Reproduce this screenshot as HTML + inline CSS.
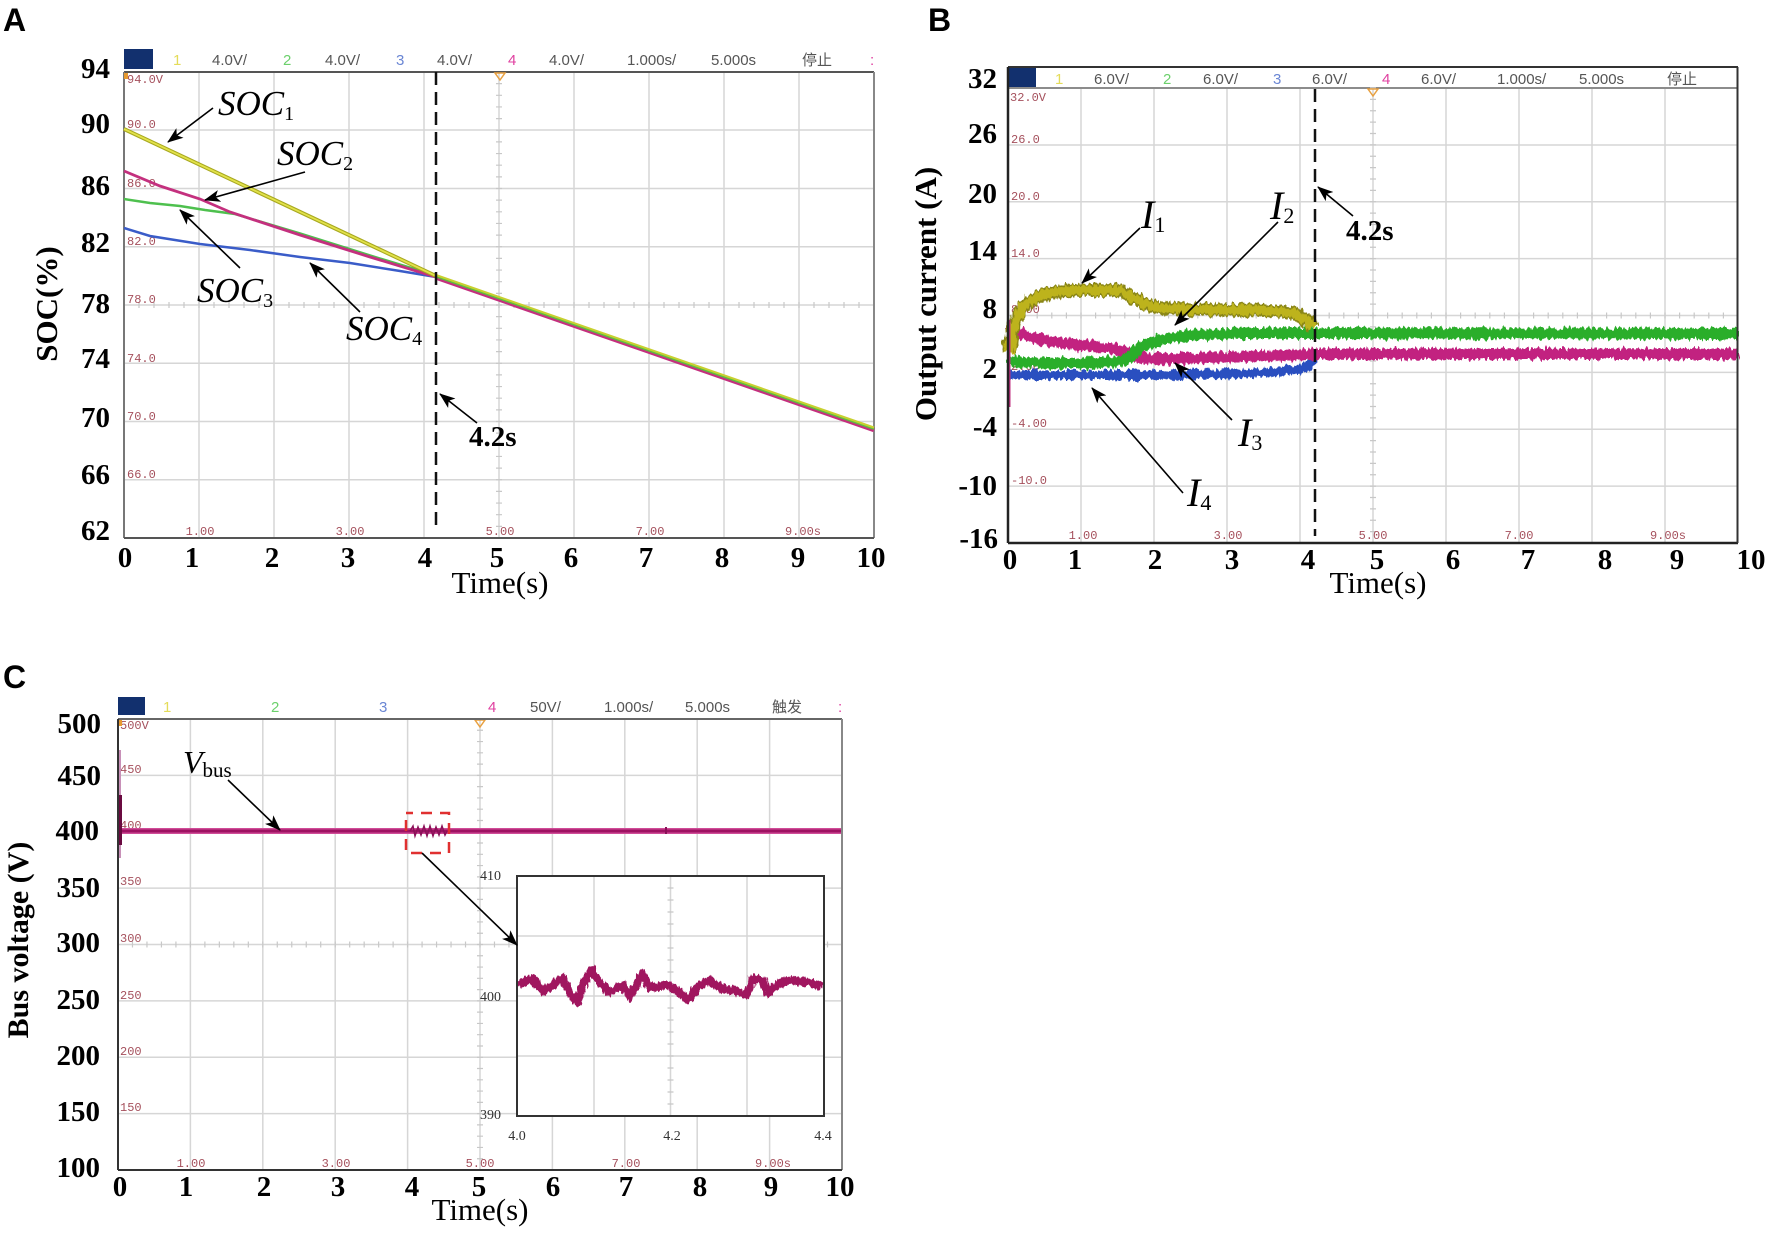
<!DOCTYPE html>
<html><head><meta charset="utf-8"><style>
html,body{margin:0;padding:0;background:#fff;}
svg{display:block}
.tk{font-family:"Liberation Serif",serif;font-weight:bold;font-size:29px;fill:#000}
.ax{font-family:"Liberation Serif",serif;font-size:31px;fill:#000}
.yl{font-family:"Liberation Serif",serif;font-weight:bold;font-size:31px;fill:#000}
.hd{font-family:"Liberation Sans","Noto Sans CJK SC",sans-serif;font-size:15px;fill:#555}
.rl{font-family:"Liberation Mono",monospace;font-size:12px;fill:#a5505c}
.an{font-family:"Liberation Serif",serif;font-style:italic;fill:#000}
.pl{font-family:"Liberation Sans",sans-serif;font-weight:bold;font-size:32px;fill:#000}
.ins{font-family:"Liberation Serif",serif;font-size:14px;fill:#333}
</style></head><body>
<svg width="1772" height="1235" viewBox="0 0 1772 1235" xmlns="http://www.w3.org/2000/svg">
<defs>
<marker id="ah" markerUnits="userSpaceOnUse" markerWidth="16" markerHeight="12" refX="15" refY="6" orient="auto" viewBox="0 0 16 12"><path d="M0,0 L16,6 L0,12 L4,6 z" fill="#000"/></marker>
<filter id="nz" x="-2%" y="-40%" width="104%" height="180%"><feTurbulence type="fractalNoise" baseFrequency="0.35 0.08" numOctaves="2" seed="3"/><feDisplacementMap in="SourceGraphic" scale="9" xChannelSelector="R" yChannelSelector="G"/></filter>
<filter id="nz2" x="-2%" y="-40%" width="104%" height="180%"><feTurbulence type="fractalNoise" baseFrequency="0.4 0.1" numOctaves="2" seed="7"/><feDisplacementMap in="SourceGraphic" scale="7" xChannelSelector="R" yChannelSelector="G"/></filter>
</defs>
<rect width="1772" height="1235" fill="#fff"/>

<text class="pl" x="3" y="31">A</text>
<text class="pl" x="928" y="31">B</text>
<text class="pl" x="3" y="688">C</text>

<!-- ================= PANEL A ================= -->
<g>
<rect x="124" y="49" width="29" height="20" fill="#12306e"/>
<text class="hd" x="173" y="65" style="fill:#e4dc5a">1</text>
<text class="hd" x="212" y="65">4.0V/</text>
<text class="hd" x="283" y="65" style="fill:#6cd06c">2</text>
<text class="hd" x="325" y="65">4.0V/</text>
<text class="hd" x="396" y="65" style="fill:#6a86d4">3</text>
<text class="hd" x="437" y="65">4.0V/</text>
<text class="hd" x="508" y="65" style="fill:#e040a0">4</text>
<text class="hd" x="549" y="65">4.0V/</text>
<text class="hd" x="627" y="65">1.000s/</text>
<text class="hd" x="711" y="65">5.000s</text>
<text class="hd" x="802" y="65">停止</text>
<text class="hd" x="870" y="65" style="fill:#e040a0">:</text>

<g stroke="#d6d6d6" stroke-width="1.5">
<line x1="199" y1="72" x2="199" y2="538"/><line x1="274" y1="72" x2="274" y2="538"/><line x1="349" y1="72" x2="349" y2="538"/><line x1="424" y1="72" x2="424" y2="538"/><line x1="499" y1="72" x2="499" y2="538"/><line x1="574" y1="72" x2="574" y2="538"/><line x1="649" y1="72" x2="649" y2="538"/><line x1="724" y1="72" x2="724" y2="538"/><line x1="799" y1="72" x2="799" y2="538"/>
<line x1="124" y1="130" x2="874" y2="130"/><line x1="124" y1="188.5" x2="874" y2="188.5"/><line x1="124" y1="246.8" x2="874" y2="246.8"/><line x1="124" y1="305" x2="874" y2="305"/><line x1="124" y1="363.3" x2="874" y2="363.3"/><line x1="124" y1="421.5" x2="874" y2="421.5"/><line x1="124" y1="479.8" x2="874" y2="479.8"/>
</g>
<line x1="499" y1="71.4" x2="499" y2="538" stroke="#c8c8c8" stroke-width="6" stroke-dasharray="1.2 10.45"/>
<line x1="123.4" y1="305" x2="874" y2="305" stroke="#c8c8c8" stroke-width="6" stroke-dasharray="1.2 13.8"/>

<g class="rl">
<text x="127" y="83">94.0V</text><text x="127" y="128">90.0</text><text x="127" y="187">86.0</text><text x="127" y="245">82.0</text><text x="127" y="303">78.0</text><text x="127" y="362">74.0</text><text x="127" y="420">70.0</text><text x="127" y="478">66.0</text>
<text x="200" y="535" text-anchor="middle">1.00</text><text x="350" y="535" text-anchor="middle">3.00</text><text x="500" y="535" text-anchor="middle">5.00</text><text x="650" y="535" text-anchor="middle">7.00</text><text x="803" y="535" text-anchor="middle">9.00s</text>
</g>

<line x1="124" y1="72" x2="874" y2="72" stroke="#555" stroke-width="2"/>
<line x1="874" y1="72" x2="874" y2="538" stroke="#888" stroke-width="2"/>
<line x1="124" y1="72" x2="124" y2="538" stroke="#777" stroke-width="2"/>
<line x1="124" y1="538" x2="874" y2="538" stroke="#555" stroke-width="2"/>
<rect x="124" y="73" width="4" height="6" fill="#e89a30"/>
<path d="M495,73 L505,73 L500,80 Z" fill="none" stroke="#e8a040" stroke-width="1.5"/>

<polyline points="124,228 150,236 200,244 250,250 300,257 350,263 400,271 436,277" fill="none" stroke="#3a5cc8" stroke-width="2.5"/>
<polyline points="124,199 150,203 180,206 205,210 235,214 300,233.5 370,255.5 436,275.5" fill="none" stroke="#4ec04e" stroke-width="2.5"/>
<polyline points="124,171 160,186 200,199 230,212 300,235 370,257 436,277" fill="none" stroke="#c4307e" stroke-width="2.8"/>
<polyline points="124,129 436,276" fill="none" stroke="#a8a820" stroke-width="4"/>
<polyline points="124,129 436,276" fill="none" stroke="#e2e24a" stroke-width="1.8"/>
<polyline points="436,277.5 874,430" fill="none" stroke="#c4307e" stroke-width="4.5"/>
<polyline points="436,276 874,428.5" fill="none" stroke="#5cc040" stroke-width="3"/>
<polyline points="436,275 874,427.5" fill="none" stroke="#c8d030" stroke-width="2"/>

<line x1="436" y1="72" x2="436" y2="531" stroke="#111" stroke-width="2.5" stroke-dasharray="13 7"/>

<g class="tk" text-anchor="end">
<text x="110" y="78">94</text><text x="110" y="133">90</text><text x="110" y="195">86</text><text x="110" y="252">82</text><text x="110" y="313">78</text><text x="110" y="368">74</text><text x="110" y="427">70</text><text x="110" y="484">66</text><text x="110" y="540">62</text>
</g>
<g class="tk" text-anchor="middle">
<text x="125" y="567">0</text><text x="192" y="567">1</text><text x="272" y="567">2</text><text x="348" y="567">3</text><text x="425" y="567">4</text><text x="497" y="567">5</text><text x="571" y="567">6</text><text x="646" y="567">7</text><text x="722" y="567">8</text><text x="798" y="567">9</text><text x="871" y="567">10</text>
</g>
<text class="ax" x="500" y="593" text-anchor="middle">Time(s)</text>
<text class="yl" transform="translate(57,304) rotate(-90)" text-anchor="middle">SOC(%)</text>

<text class="an" x="218" y="115" font-size="35">SOC<tspan font-size="20" font-style="normal" dy="5">1</tspan></text>
<text class="an" x="277" y="165" font-size="35">SOC<tspan font-size="20" font-style="normal" dy="5">2</tspan></text>
<text class="an" x="197" y="302" font-size="35">SOC<tspan font-size="20" font-style="normal" dy="5">3</tspan></text>
<text class="an" x="346" y="340" font-size="35">SOC<tspan font-size="20" font-style="normal" dy="5">4</tspan></text>
<text class="tk" x="469" y="446">4.2s</text>
<g stroke="#000" stroke-width="1.6" fill="none">
<line x1="213" y1="108" x2="168" y2="142" marker-end="url(#ah)"/>
<line x1="305" y1="172" x2="205" y2="200" marker-end="url(#ah)"/>
<line x1="240" y1="268" x2="180" y2="210" marker-end="url(#ah)"/>
<line x1="360" y1="312" x2="310" y2="263" marker-end="url(#ah)"/>
<line x1="477" y1="423" x2="440" y2="394" marker-end="url(#ah)"/>
</g>
</g>

<!-- ================= PANEL B ================= -->
<g>
<line x1="1008" y1="67" x2="1738" y2="67" stroke="#333" stroke-width="2"/>
<line x1="1008" y1="88" x2="1738" y2="88" stroke="#666" stroke-width="1.5"/>
<rect x="1008" y="68" width="28" height="19" fill="#12306e"/>
<text class="hd" x="1055" y="84" style="fill:#e4dc5a">1</text>
<text class="hd" x="1094" y="84">6.0V/</text>
<text class="hd" x="1163" y="84" style="fill:#6cd06c">2</text>
<text class="hd" x="1203" y="84">6.0V/</text>
<text class="hd" x="1273" y="84" style="fill:#6a86d4">3</text>
<text class="hd" x="1312" y="84">6.0V/</text>
<text class="hd" x="1382" y="84" style="fill:#e040a0">4</text>
<text class="hd" x="1421" y="84">6.0V/</text>
<text class="hd" x="1497" y="84">1.000s/</text>
<text class="hd" x="1579" y="84">5.000s</text>
<text class="hd" x="1667" y="84">停止</text>

<g stroke="#d6d6d6" stroke-width="1.5">
<line x1="1081" y1="89" x2="1081" y2="543"/><line x1="1154" y1="89" x2="1154" y2="543"/><line x1="1227" y1="89" x2="1227" y2="543"/><line x1="1300" y1="89" x2="1300" y2="543"/><line x1="1373" y1="89" x2="1373" y2="543"/><line x1="1446" y1="89" x2="1446" y2="543"/><line x1="1519" y1="89" x2="1519" y2="543"/><line x1="1592" y1="89" x2="1592" y2="543"/><line x1="1665" y1="89" x2="1665" y2="543"/>
<line x1="1008" y1="145" x2="1738" y2="145"/><line x1="1008" y1="201.8" x2="1738" y2="201.8"/><line x1="1008" y1="258.6" x2="1738" y2="258.6"/><line x1="1008" y1="315.5" x2="1738" y2="315.5"/><line x1="1008" y1="372.4" x2="1738" y2="372.4"/><line x1="1008" y1="429.3" x2="1738" y2="429.3"/><line x1="1008" y1="486.1" x2="1738" y2="486.1"/>
</g>
<line x1="1373" y1="87.4" x2="1373" y2="543" stroke="#c8c8c8" stroke-width="6" stroke-dasharray="1.2 10.175"/>
<line x1="1007.4" y1="315.5" x2="1738" y2="315.5" stroke="#c8c8c8" stroke-width="6" stroke-dasharray="1.2 13.4"/>

<g class="rl">
<text x="1010" y="101">32.0V</text><text x="1011" y="143">26.0</text><text x="1011" y="200">20.0</text><text x="1011" y="257">14.0</text><text x="1011" y="313">8.00</text><text x="1011" y="370">2.00</text><text x="1011" y="427">-4.00</text><text x="1011" y="484">-10.0</text>
<text x="1083" y="539" text-anchor="middle">1.00</text><text x="1228" y="539" text-anchor="middle">3.00</text><text x="1373" y="539" text-anchor="middle">5.00</text><text x="1519" y="539" text-anchor="middle">7.00</text><text x="1668" y="539" text-anchor="middle">9.00s</text>
</g>
<path d="M1368,89 L1378,89 L1373,96 Z" fill="none" stroke="#e8a040" stroke-width="1.5"/>

<g filter="url(#nz)" fill="none" stroke-linejoin="round">
<polyline points="1010,378 1012,376 1023,375 1081,375 1154,375 1227,374 1271,372 1300,369 1308,366 1315,358" stroke="#2a4fc0" stroke-width="9"/>
<polyline points="1009,325 1015,332 1030,337 1052,342 1081,345 1110,348 1125,352 1136,357 1154,359 1190,358 1227,357 1300,355 1315,354 1738,354" stroke="#c22080" stroke-width="11"/>
<polyline points="1010,358 1015,362 1044,363 1081,363 1117,362 1128,359 1136,351 1147,344 1169,338 1198,335 1242,333 1311,333 1315,333 1738,333.5" stroke="#2aae2a" stroke-width="11"/>
<polyline points="1009,353 1011.7,334 1015.3,320 1022.6,308 1033.6,299 1044.5,294 1066,291 1081,290 1103,290 1121,291 1132,297 1143,303 1154,307 1183,309 1227,310 1271,310.5 1293,313 1307,321 1313,328" stroke="#8a8616" stroke-width="13"/>
<polyline points="1009,353 1011.7,334 1015.3,320 1022.6,308 1033.6,299 1044.5,294 1066,291 1081,290 1103,290 1121,291 1132,297 1143,303 1154,307 1183,309 1227,310 1271,310.5 1293,313 1307,321 1313,328" stroke="#bdb31e" stroke-width="9"/>
</g>
<line x1="1009" y1="320" x2="1009" y2="407" stroke="#c03080" stroke-width="3"/>

<line x1="1008" y1="67" x2="1008" y2="543" stroke="#222" stroke-width="2.5"/>
<line x1="1008" y1="543" x2="1738" y2="543" stroke="#222" stroke-width="2.5"/>
<line x1="1737.5" y1="67" x2="1737.5" y2="543" stroke="#333" stroke-width="2"/>

<line x1="1315" y1="89" x2="1315" y2="536" stroke="#111" stroke-width="2.5" stroke-dasharray="13 7"/>

<g class="tk" text-anchor="end">
<text x="997" y="88">32</text><text x="997" y="143">26</text><text x="997" y="203">20</text><text x="997" y="260">14</text><text x="997" y="318">8</text><text x="997" y="378">2</text><text x="997" y="436">-4</text><text x="997" y="495">-10</text><text x="998" y="548">-16</text>
</g>
<g class="tk" text-anchor="middle">
<text x="1010" y="569">0</text><text x="1075" y="569">1</text><text x="1155" y="569">2</text><text x="1232" y="569">3</text><text x="1308" y="569">4</text><text x="1377" y="569">5</text><text x="1453" y="569">6</text><text x="1528" y="569">7</text><text x="1605" y="569">8</text><text x="1677" y="569">9</text><text x="1751" y="569">10</text>
</g>
<text class="ax" x="1378" y="593" text-anchor="middle">Time(s)</text>
<text class="yl" transform="translate(936,294) rotate(-90)" text-anchor="middle">Output current (A)</text>

<text class="an" x="1141" y="228" font-size="40">I<tspan font-size="22" font-style="normal" dy="4">1</tspan></text>
<text class="an" x="1270" y="219" font-size="40">I<tspan font-size="22" font-style="normal" dy="4">2</tspan></text>
<text class="an" x="1238" y="446" font-size="40">I<tspan font-size="22" font-style="normal" dy="4">3</tspan></text>
<text class="an" x="1187" y="506" font-size="40">I<tspan font-size="22" font-style="normal" dy="4">4</tspan></text>
<text class="tk" x="1346" y="240">4.2s</text>
<g stroke="#000" stroke-width="1.6" fill="none">
<line x1="1140" y1="228" x2="1082" y2="283" marker-end="url(#ah)"/>
<line x1="1278" y1="222" x2="1175" y2="325" marker-end="url(#ah)"/>
<line x1="1232" y1="420" x2="1175" y2="363" marker-end="url(#ah)"/>
<line x1="1183" y1="493" x2="1092" y2="388" marker-end="url(#ah)"/>
<line x1="1353" y1="216" x2="1318" y2="187" marker-end="url(#ah)"/>
</g>
</g>

<!-- ================= PANEL C ================= -->
<g>
<rect x="118" y="697" width="27" height="18" fill="#12306e"/>
<text class="hd" x="163" y="712" style="fill:#e4dc5a">1</text>
<text class="hd" x="271" y="712" style="fill:#6cd06c">2</text>
<text class="hd" x="379" y="712" style="fill:#6a86d4">3</text>
<text class="hd" x="488" y="712" style="fill:#e040a0">4</text>
<text class="hd" x="530" y="712">50V/</text>
<text class="hd" x="604" y="712">1.000s/</text>
<text class="hd" x="685" y="712">5.000s</text>
<text class="hd" x="772" y="712">触发</text>
<text class="hd" x="838" y="712" style="fill:#e040a0">:</text>

<g stroke="#d6d6d6" stroke-width="1.5">
<line x1="190.4" y1="719" x2="190.4" y2="1170"/><line x1="262.8" y1="719" x2="262.8" y2="1170"/><line x1="335.2" y1="719" x2="335.2" y2="1170"/><line x1="407.6" y1="719" x2="407.6" y2="1170"/><line x1="480" y1="719" x2="480" y2="1170"/><line x1="552.4" y1="719" x2="552.4" y2="1170"/><line x1="624.8" y1="719" x2="624.8" y2="1170"/><line x1="697.2" y1="719" x2="697.2" y2="1170"/><line x1="769.6" y1="719" x2="769.6" y2="1170"/>
<line x1="118" y1="775.4" x2="842" y2="775.4"/><line x1="118" y1="831.8" x2="842" y2="831.8"/><line x1="118" y1="888.1" x2="842" y2="888.1"/><line x1="118" y1="944.5" x2="842" y2="944.5"/><line x1="118" y1="1000.9" x2="842" y2="1000.9"/><line x1="118" y1="1057.3" x2="842" y2="1057.3"/><line x1="118" y1="1113.6" x2="842" y2="1113.6"/>
</g>
<line x1="480" y1="718.4" x2="480" y2="1170" stroke="#c8c8c8" stroke-width="6" stroke-dasharray="1.2 10.075"/>
<line x1="117.4" y1="944.5" x2="842" y2="944.5" stroke="#c8c8c8" stroke-width="6" stroke-dasharray="1.2 13.28"/>

<g class="rl">
<text x="120" y="729">500V</text><text x="120" y="773">450</text><text x="120" y="829">400</text><text x="120" y="885">350</text><text x="120" y="942">300</text><text x="120" y="999">250</text><text x="120" y="1055">200</text><text x="120" y="1111">150</text>
<text x="191" y="1167" text-anchor="middle">1.00</text><text x="336" y="1167" text-anchor="middle">3.00</text><text x="480" y="1167" text-anchor="middle">5.00</text><text x="626" y="1167" text-anchor="middle">7.00</text><text x="773" y="1167" text-anchor="middle">9.00s</text>
</g>
<path d="M475,720 L485,720 L480,727 Z" fill="none" stroke="#e8a040" stroke-width="1.5"/>
<rect x="118" y="720" width="4" height="6" fill="#e89a30"/>

<line x1="118" y1="831" x2="842" y2="831" stroke="#d04c98" stroke-width="6"/>
<line x1="118" y1="831" x2="842" y2="831" stroke="#9e1262" stroke-width="3"/>
<line x1="120" y1="750" x2="120" y2="858" stroke="#c890b8" stroke-width="2"/>
<line x1="120" y1="795" x2="120" y2="845" stroke="#6a0a40" stroke-width="4"/>
<polyline points="410,831 413,826 415,836 418,827 421,835 424,826 427,836 430,826 433,836 436,827 439,835 442,826 445,835 447,831" fill="none" stroke="#8a1058" stroke-width="1.5"/>
<line x1="666" y1="827" x2="666" y2="834" stroke="#8a1058" stroke-width="2"/>
<rect x="406" y="813" width="43" height="40" fill="none" stroke="#e03030" stroke-width="2.5" stroke-dasharray="11 8" stroke-dashoffset="4"/>

<line x1="118" y1="719" x2="842" y2="719" stroke="#666" stroke-width="2"/>
<line x1="842" y1="719" x2="842" y2="1170" stroke="#888" stroke-width="2"/>
<line x1="118" y1="719" x2="118" y2="1170" stroke="#333" stroke-width="2"/>
<line x1="118" y1="1170" x2="842" y2="1170" stroke="#333" stroke-width="2"/>

<rect x="517" y="876" width="307" height="240" fill="#fff"/>
<g stroke="#d6d6d6" stroke-width="1.5">
<line x1="594" y1="876" x2="594" y2="1116"/><line x1="670.5" y1="876" x2="670.5" y2="1116"/><line x1="747" y1="876" x2="747" y2="1116"/>
<line x1="517" y1="936" x2="824" y2="936"/><line x1="517" y1="996" x2="824" y2="996"/><line x1="517" y1="1056" x2="824" y2="1056"/>
</g>
<line x1="670.5" y1="875.4" x2="670.5" y2="1116" stroke="#c8c8c8" stroke-width="6" stroke-dasharray="1.2 10.8"/>
<g filter="url(#nz2)">
<polyline points="518,985 533,978 543,992 553,985 562,977 568,990 577,1003 585,980 592,970 600,983 610,992 623,985 630,997 643,973 650,988 667,985 677,990 688,1000 697,987 710,980 720,988 733,990 747,995 753,978 763,980 768,993 780,983 790,980 807,982 822,987" fill="none" stroke="#a0135f" stroke-width="8" stroke-linejoin="round"/>
</g>
<rect x="517" y="876" width="307" height="240" fill="none" stroke="#333" stroke-width="2"/>
<g class="ins">
<text x="480" y="880">410</text><text x="480" y="1001">400</text><text x="480" y="1119">390</text>
<text x="517" y="1140" text-anchor="middle">4.0</text><text x="672" y="1140" text-anchor="middle">4.2</text><text x="823" y="1140" text-anchor="middle">4.4</text>
</g>

<g class="tk" text-anchor="end">
<text x="101" y="733">500</text><text x="101" y="785">450</text><text x="99" y="840">400</text><text x="100" y="897">350</text><text x="100" y="952">300</text><text x="100" y="1009">250</text><text x="100" y="1065">200</text><text x="100" y="1121">150</text><text x="100" y="1177">100</text>
</g>
<g class="tk" text-anchor="middle">
<text x="120" y="1196">0</text><text x="186" y="1196">1</text><text x="264" y="1196">2</text><text x="338" y="1196">3</text><text x="412" y="1196">4</text><text x="479" y="1196">5</text><text x="553" y="1196">6</text><text x="626" y="1196">7</text><text x="700" y="1196">8</text><text x="771" y="1196">9</text><text x="840" y="1196">10</text>
</g>
<text class="ax" x="480" y="1220" text-anchor="middle">Time(s)</text>
<text class="yl" transform="translate(28,940) rotate(-90)" text-anchor="middle" style="font-size:30px">Bus voltage (V)</text>

<text class="an" x="183" y="773" font-size="32">V<tspan font-size="21" font-style="normal" dy="4">bus</tspan></text>
<g stroke="#000" stroke-width="1.6" fill="none">
<line x1="228" y1="780" x2="280" y2="830" marker-end="url(#ah)"/>
<line x1="422" y1="853" x2="517" y2="945" marker-end="url(#ah)"/>
</g>
</g>
</svg>
</body></html>
